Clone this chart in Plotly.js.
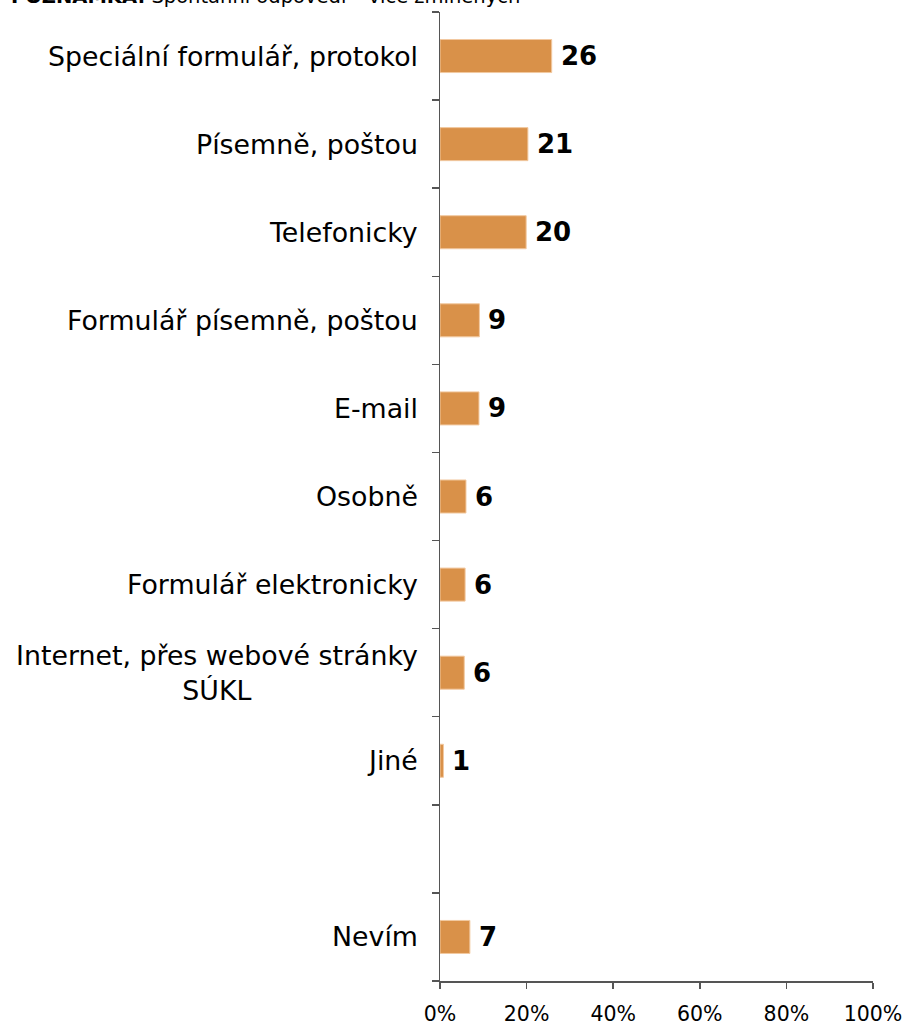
<!DOCTYPE html>
<html>
<head>
<meta charset="utf-8">
<script src="https://cdn.plot.ly/plotly-3.0.1.min.js"></script>
<style>html,body{margin:0;padding:0;background:#fff;}#chart{width:904px;height:1021px;}</style>
</head>
<body>
<div id="chart"></div>
<script>
// Data
var categories = ['Speciální formulář, protokol', 'Písemně, poštou', 'Telefonicky', 'Formulář písemně, poštou', 'E-mail', 'Osobně', 'Formulář elektronicky', 'Internet, přes webové stránky<br>SÚKL', 'Jiné', 'Nevím'];
var values = [25.8, 20.3, 19.9, 9.1, 9.0, 6.0, 5.8, 5.6, 0.8, 6.9];
var valueLabels = ['26', '21', '20', '9', '9', '6', '6', '6', '1', '7'];
var xTickVals = [0, 20, 40, 60, 80, 100];
var xTickText = ['0%', '20%', '40%', '60%', '80%', '100%'];
var noteBold = 'POZNÁMKA:';
var noteText = ' Spontánní odpovědi – více zmíněných';

// slot positions: an empty slot before the last category ("Nevím")
var gapBefore = categories.length - 1;
var slots = categories.map(function (c, i) { return i < gapBefore ? i : i + 1; });
var nSlots = categories.length + 1;
var boundaries = [];
for (var b = 0; b <= nSlots; b++) boundaries.push(b - 0.5);

var font = 'Verdana, "DejaVu Sans", sans-serif';

var trace = {
  type: 'bar',
  orientation: 'h',
  x: values,
  y: slots,
  width: 0.375,
  marker: { color: '#D99149', line: { color: '#F2C9A0', width: 1 } },
  hoverinfo: 'skip'
};

var annotations = [];
categories.forEach(function (c, i) {
  annotations.push({
    xref: 'paper', yref: 'y', x: 0, y: slots[i],
    xanchor: 'right', yanchor: 'middle', xshift: -20,
    text: c, showarrow: false, align: 'center',
    font: { family: font, size: 26.8, color: '#000' }
  });
  annotations.push({
    xref: 'x', yref: 'y', x: values[i], y: slots[i],
    xanchor: 'left', yanchor: 'middle', xshift: 7,
    text: '<b>' + valueLabels[i] + '</b>', showarrow: false,
    font: { family: font, size: 26, color: '#000' }
  });
});
annotations.push({
  xref: 'paper', yref: 'paper', x: 0, y: 1.002,
  xanchor: 'left', yanchor: 'bottom', xshift: -431,
  text: '<b>' + noteBold + '</b>' + noteText, showarrow: false,
  font: { family: font, size: 19.5, color: '#000' }
});

var layout = {
  width: 904, height: 1021,
  margin: { l: 440, r: 31, t: 12, b: 40 },
  paper_bgcolor: '#fff', plot_bgcolor: '#fff',
  showlegend: false,
  bargap: 0,
  xaxis: {
    range: [0, 100], tickvals: xTickVals, ticktext: xTickText,
    showgrid: false, zeroline: false,
    showline: true, linecolor: '#555', linewidth: 1.5,
    ticks: 'outside', ticklen: 6, tickcolor: '#555', tickwidth: 1.5,
    ticklabelstandoff: 8,
    tickfont: { family: font, size: 20.5, color: '#000' },
    fixedrange: true
  },
  yaxis: {
    range: [nSlots - 0.5, -0.5],
    tickvals: boundaries, ticktext: boundaries.map(function () { return ''; }),
    showgrid: false, zeroline: false,
    showline: true, linecolor: '#555', linewidth: 1.5,
    ticks: 'outside', ticklen: 7, tickcolor: '#555', tickwidth: 1.5,
    fixedrange: true
  },
  annotations: annotations
};

Plotly.newPlot('chart', [trace], layout, { displayModeBar: false, staticPlot: true });
</script>
</body>
</html>
